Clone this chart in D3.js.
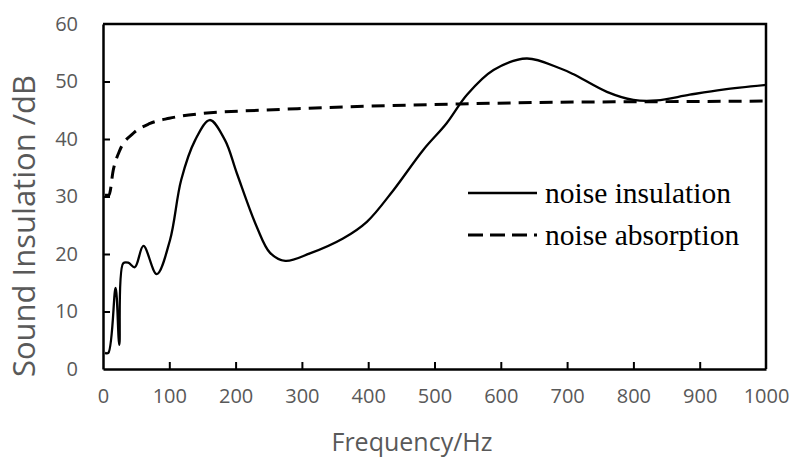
<!DOCTYPE html>
<html>
<head>
<meta charset="utf-8">
<script src="https://cdn.jsdelivr.net/npm/d3@7"></script>
<style>
  body { margin: 0; background: #fff; }
  svg { display: block; }
</style>
</head>
<body>
<svg id="chart" width="793" height="461"></svg>
<script>
// values
const insulationFreq = [3, 8, 19, 24.6, 30.5, 38, 48, 61, 81, 101, 118, 139, 161, 184, 202, 232, 252, 275, 312, 362, 398, 438, 483, 518, 549, 589, 639, 689, 709, 760, 800, 835, 885, 935, 1000];
const insulationDb = [2.8, 2.8, 14.1, 4.2, 18.4, 18.5, 17.7, 21.4, 16.5, 22.4, 32.9, 39.8, 43.3, 39.8, 34, 24.7, 20.2, 18.8, 20.1, 22.7, 25.6, 31.1, 38.1, 42.7, 47.7, 52, 54, 52.3, 51.3, 48.2, 46.8, 46.7, 47.7, 48.6, 49.4];

const absorptionFreq = [3, 9, 15.5, 25.6, 45.7, 71, 100, 146, 237, 300, 400, 538, 689, 850, 1000];
const absorptionDb = [30.2, 30.2, 34.6, 38.1, 41, 42.7, 43.6, 44.4, 45.0, 45.3, 45.7, 46.1, 46.4, 46.5, 46.6];

const xTicks = [0, 100, 200, 300, 400, 500, 600, 700, 800, 900, 1000];
const yTicks = [0, 10, 20, 30, 40, 50, 60];

const seriesNames = ["noise insulation", "noise absorption"];

const svg = d3.select("#chart"),
    width = +svg.attr("width"),
    height = +svg.attr("height");

const margin = { top: 24, right: 27, bottom: 92, left: 103 };

const x = d3.scaleLinear().domain([0, 1000]).range([margin.left, width - margin.right]);
const y = d3.scaleLinear().domain([0, 60]).range([height - margin.bottom, margin.top]);

const labelFont = "'Open Sans', 'Noto Sans', sans-serif";
const grey = "#595959";

// x axis (ticks pointing inward)
const xAxis = svg.append("g")
    .attr("transform", `translate(0,${y(0)})`)
    .call(d3.axisBottom(x).tickValues(xTicks).tickFormat(d3.format("d"))
        .tickSizeInner(-7).tickSizeOuter(0).tickPadding(20));

// y axis
const yAxis = svg.append("g")
    .attr("transform", `translate(${x(0)},0)`)
    .call(d3.axisLeft(y).tickValues(yTicks).tickFormat(d3.format("d"))
        .tickSizeInner(-7).tickSizeOuter(0).tickPadding(25));

[xAxis, yAxis].forEach(a => {
    a.select(".domain").attr("stroke", "#000").attr("stroke-width", 2.5);
    a.selectAll(".tick line").attr("stroke", "#000").attr("stroke-width", 2);
    a.selectAll(".tick text")
        .attr("fill", grey)
        .style("font-family", labelFont)
        .style("font-size", "20px");
});
xAxis.selectAll(".tick").filter(d => d === 0 || d === 1000).select("line").remove();
yAxis.selectAll(".tick").filter(d => d === 0 || d === 60).select("line").remove();

// top and right border
svg.append("path")
    .attr("d", `M${x(0)},${y(60)}H${x(1000)}V${y(0)}`)
    .attr("fill", "none")
    .attr("stroke", "#000")
    .attr("stroke-width", 2.5);

// axis titles
svg.append("text")
    .attr("x", 412)
    .attr("y", 451)
    .attr("text-anchor", "middle")
    .attr("fill", grey)
    .style("font-family", labelFont)
    .style("font-size", "25px")
    .text("Frequency/Hz");

svg.append("text")
    .attr("transform", "translate(35,226) rotate(-90)")
    .attr("text-anchor", "middle")
    .attr("fill", grey)
    .style("font-family", labelFont)
    .style("font-size", "31px")
    .text("Sound Insulation /dB");

// curves
const smoothLine = d3.line()
    .x(d => x(d[0]))
    .y(d => y(d[1]))
    .curve(d3.curveCatmullRom.alpha(0.5));

const monoLine = d3.line()
    .x(d => x(d[0]))
    .y(d => y(d[1]))
    .curve(d3.curveMonotoneX);

const insulation = insulationFreq.map((f, i) => [f, insulationDb[i]]);
const absorption = absorptionFreq.map((f, i) => [f, absorptionDb[i]]);

svg.append("path")
    .datum(absorption)
    .attr("d", monoLine)
    .attr("fill", "none")
    .attr("stroke", "#000")
    .attr("stroke-width", 3)
    .attr("stroke-dasharray", "13,8");

svg.append("path")
    .datum(insulation)
    .attr("d", smoothLine)
    .attr("fill", "none")
    .attr("stroke", "#000")
    .attr("stroke-width", 2.3);

// legend
const legend = svg.append("g").attr("transform", "translate(468,193)");
seriesNames.forEach((name, i) => {
    const row = legend.append("g").attr("transform", `translate(0,${i * 42})`);
    row.append("line")
        .attr("x1", 0).attr("x2", 69)
        .attr("stroke", "#000")
        .attr("stroke-width", i === 0 ? 2.3 : 3)
        .attr("stroke-dasharray", i === 0 ? null : "15,7");
    row.append("text")
        .attr("x", 77)
        .attr("y", 10)
        .style("font-family", "'Liberation Serif', 'Times New Roman', serif")
        .style("font-size", "29.5px")
        .attr("fill", "#000")
        .text(name);
});
</script>
</body>
</html>
